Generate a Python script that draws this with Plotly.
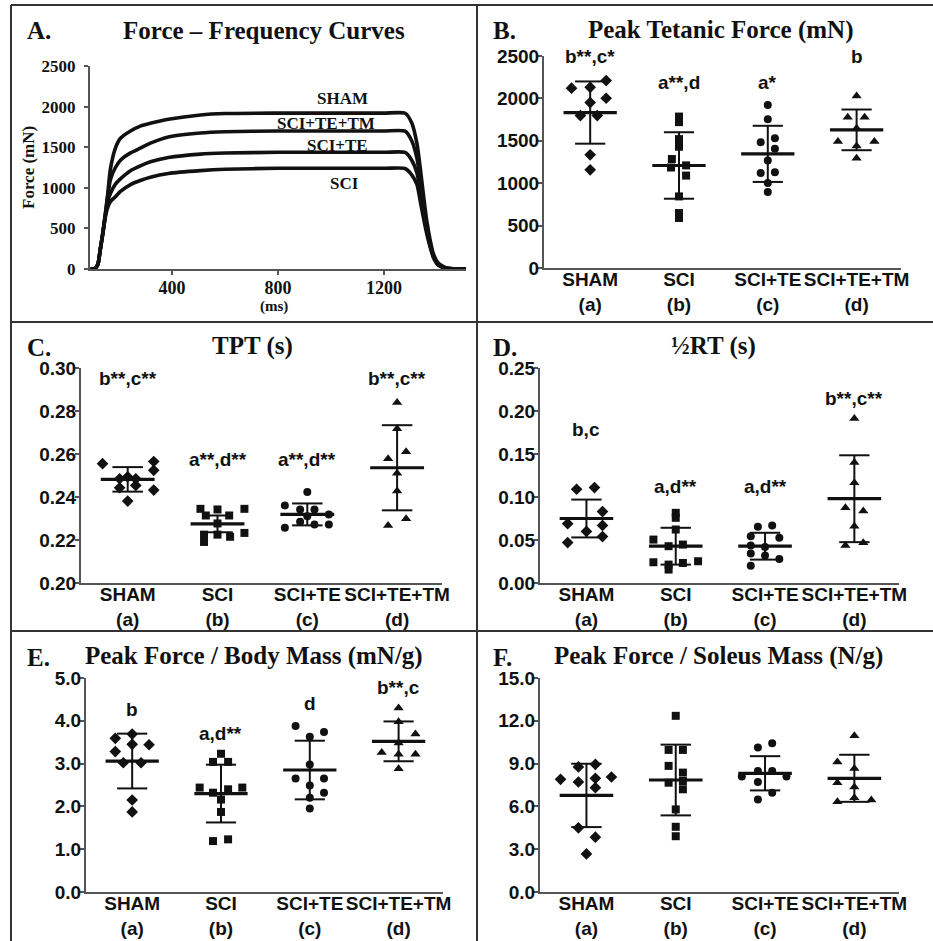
import plotly.graph_objects as go

W, H = 933, 941

# ---------------- Panel A: force-frequency curves ----------------
time_ms = [92, 100, 110, 120, 129, 138, 148, 157, 167, 186, 205, 243, 280, 318, 386, 507,
           600, 800, 1000, 1200, 1280, 1305, 1325, 1337, 1349, 1362, 1375, 1387, 1406, 1438, 1475, 1510]
force_sham = [0, 0, 10, 60, 245, 430, 676, 922, 1230, 1490, 1610, 1700, 1760, 1795, 1844, 1897,
              1915, 1920, 1920, 1920, 1918, 1800, 1540, 1250, 920, 590, 350, 185, 70, 12, 0, 0]
force_tm = [0, 0, 10, 60, 245, 430, 676, 900, 1100, 1250, 1340, 1430, 1488, 1550, 1627, 1675,
            1690, 1700, 1700, 1700, 1698, 1580, 1360, 1090, 800, 510, 305, 165, 55, 8, 0, 0]
force_te = [0, 0, 10, 60, 245, 430, 660, 830, 930, 1045, 1110, 1210, 1270, 1320, 1373, 1415,
            1428, 1437, 1437, 1437, 1435, 1340, 1180, 960, 715, 470, 285, 155, 50, 8, 0, 0]
force_sci = [0, 0, 10, 60, 245, 430, 640, 760, 830, 890, 955, 1040, 1090, 1130, 1176, 1211,
             1228, 1240, 1240, 1240, 1238, 1160, 1040, 840, 635, 430, 266, 140, 45, 8, 0, 0]
curve_names = ["SHAM", "SCI+TE+TM", "SCI+TE", "SCI"]
curve_label_x = [1043, 983, 1024, 1050]
curve_label_y = [2094, 1786, 1527, 1059]
a_yticks = [0, 500, 1000, 1500, 2000, 2500]
a_xticks = [400, 800, 1200]

# ---------------- scatter panels ----------------
groups = ["SHAM", "SCI", "SCI+TE", "SCI+TE+TM"]
group_ids = ["(a)", "(b)", "(c)", "(d)"]

# B. Peak tetanic force (mN)
ptf_sham = [2120, 2131, 2210, 2002, 1951, 1798, 1798, 1335, 1158]
ptf_sham_dx = [-0.21, 0, 0.18, 0.18, 0, -0.11, 0.08, 0, 0]
ptf_sci = [1786, 1720, 1520, 1430, 1285, 1185, 1210, 1090, 844, 648, 590]
ptf_sci_dx = [0, 0, 0, 0, -0.08, -0.09, 0.08, 0.08, 0, 0, 0]
ptf_te = [1923, 1755, 1484, 1531, 1405, 1268, 1119, 1130, 1001, 895]
ptf_te_dx = [0, 0, -0.08, 0.08, 0.08, 0, -0.08, 0.08, 0, 0]
ptf_tm = [2029, 1778, 1778, 1491, 1491, 1648, 1440, 1295]
ptf_tm_dx = [0, -0.1, 0.09, -0.21, 0.2, 0, 0, 0]
ptf_mean = [1833, 1209, 1346, 1629]
ptf_sd = [367, 392, 331, 240]
ptf_sig = ["b**,c*", "a**,d", "a*", "b"]
ptf_sig_y = [2492, 2186, 2186, 2492]

# C. TPT (s)
tpt_sham = [0.2555, 0.2565, 0.2524, 0.2432, 0.2485, 0.2485, 0.2494, 0.2443, 0.2454, 0.2381]
tpt_sham_dx = [-0.28, 0.29, 0.29, 0.29, -0.09, 0.09, 0, -0.09, 0.09, 0]
tpt_sci = [0.2345, 0.2345, 0.2314, 0.2342, 0.2314, 0.2277, 0.2225, 0.2225, 0.2215, 0.2233, 0.2191]
tpt_sci_dx = [-0.19, 0.3, -0.13, 0, 0.13, 0, -0.15, 0, 0.14, 0.3, -0.15]
tpt_te = [0.2423, 0.2361, 0.2342, 0.2342, 0.2319, 0.2257, 0.2285, 0.2272, 0.2272, 0.2310]
tpt_te_dx = [0, -0.25, -0.08, 0.08, 0.24, -0.25, -0.08, 0.08, 0.24, 0]
tpt_tm = [0.2840, 0.2718, 0.2578, 0.2610, 0.2510, 0.2428, 0.2267, 0.2299]
tpt_tm_dx = [0, 0, -0.1, 0.1, 0, 0, -0.1, 0.1]
tpt_mean = [0.2482, 0.2275, 0.2319, 0.2536]
tpt_sd = [0.0057, 0.0039, 0.0051, 0.0198]
tpt_sig = ["b**,c**", "a**,d**", "a**,d**", "b**,c**"]
tpt_sig_y = [0.2952, 0.2575, 0.2575, 0.2952]

# D. 1/2 RT (s)
hrt_sham = [0.109, 0.111, 0.083, 0.069, 0.067, 0.060, 0.054, 0.047]
hrt_sham_dx = [-0.11, 0.09, 0.18, -0.21, 0.18, 0, 0.18, -0.21]
hrt_sci = [0.0816, 0.0758, 0.0622, 0.0505, 0.0428, 0.0447, 0.0241, 0.0214, 0.0233, 0.0253, 0.0156]
hrt_sci_dx = [0, 0, 0, -0.25, -0.08, 0.08, -0.25, -0.08, 0.08, 0.25, -0.08]
hrt_te = [0.0653, 0.0669, 0.0544, 0.0525, 0.0435, 0.0420, 0.0342, 0.0319, 0.0280, 0.0202]
hrt_te_dx = [-0.08, 0.08, -0.16, 0.16, -0.16, 0, -0.16, 0, 0.16, -0.16]
hrt_tm = [0.1913, 0.140, 0.1166, 0.0875, 0.0836, 0.0661, 0.0435, 0.0467]
hrt_tm_dx = [0, 0, 0, -0.1, 0.1, 0, -0.1, 0.1]
hrt_mean = [0.075, 0.0428, 0.0428, 0.098]
hrt_sd = [0.022, 0.0214, 0.0156, 0.0505]
hrt_sig = ["b,c", "a,d**", "a,d**", "b**,c**"]
hrt_sig_y = [0.179, 0.112, 0.112, 0.214]

# E. Peak force / body mass (mN/g)
pfb_sham = [3.59, 3.69, 3.45, 3.44, 3.28, 3.02, 3.02, 2.15, 1.87]
pfb_sham_dx = [-0.19, 0, 0, 0.19, -0.19, -0.1, 0.1, 0, 0]
pfb_sci = [3.23, 3.04, 3.04, 2.44, 2.44, 2.32, 2.40, 2.16, 1.87, 1.19, 1.23]
pfb_sci_dx = [0, -0.09, 0.08, -0.24, 0.24, -0.09, 0.08, 0, 0, -0.09, 0.08]
pfb_te = [3.88, 3.74, 3.63, 2.98, 2.65, 2.65, 2.49, 2.32, 2.20, 1.95]
pfb_te_dx = [-0.16, 0.16, 0, 0, -0.16, 0.16, 0, 0.16, 0, 0]
pfb_tm = [4.30, 3.98, 3.69, 3.48, 3.26, 3.22, 3.22, 2.88]
pfb_tm_dx = [0, 0, 0.19, 0, -0.19, 0, 0.19, 0]
pfb_mean = [3.06, 2.30, 2.85, 3.52]
pfb_sd = [0.64, 0.675, 0.685, 0.465]
pfb_sig = ["b", "a,d**", "d", "b**,c"]
pfb_sig_y = [4.27, 3.71, 4.41, 4.78]

# F. Peak force / soleus mass (N/g)
pfs_sham = [7.90, 8.77, 8.95, 7.71, 7.97, 8.06, 7.31, 4.50, 3.84, 2.67]
pfs_sham_dx = [-0.29, -0.09, 0.1, -0.09, 0.1, 0.28, 0.1, -0.09, 0.1, 0]
pfs_sci = [12.35, 9.96, 9.96, 8.84, 8.37, 7.66, 7.78, 7.20, 5.79, 4.57, 3.91]
pfs_sci_dx = [0, -0.08, 0.08, -0.08, 0.08, -0.08, 0.08, 0.08, 0, 0, 0]
pfs_te = [10.13, 10.43, 8.09, 8.48, 8.48, 8.09, 7.71, 6.96, 6.49]
pfs_te_dx = [-0.08, 0.08, -0.26, -0.08, 0.08, 0.24, -0.08, 0.08, -0.08]
pfs_tm = [10.95, 9.12, 8.65, 7.66, 7.36, 6.33, 6.45, 6.61]
pfs_tm_dx = [0, -0.19, 0, -0.19, 0, -0.19, 0.19, 0]
pfs_mean = [6.77, 7.85, 8.32, 7.97]
pfs_sd = [2.22, 2.48, 1.20, 1.65]

# ---------------- figure ----------------
INK = "#111111"
AXC = "#555555"
SANS = "Liberation Sans"
SERIF = "Liberation Serif"

fig = go.Figure()


def xdom(a, b):
    return [a / W, b / W]


def ydom(top, bottom):
    return [1 - bottom / H, 1 - top / H]


# Panel A
for name, f in zip(curve_names, [force_sham, force_tm, force_te, force_sci]):
    fig.add_trace(go.Scatter(x=time_ms, y=f, mode="lines", name=name,
                             line=dict(color=INK, width=3.6, shape="spline", smoothing=0.6),
                             xaxis="x", yaxis="y", hoverinfo="skip"))
for name, lx, ly in zip(curve_names, curve_label_x, curve_label_y):
    fig.add_annotation(x=lx, y=ly, xref="x", yref="y", text="<b>%s</b>" % name, showarrow=False,
                       font=dict(family=SERIF, size=17, color=INK))

axis_common = dict(showgrid=False, zeroline=False, showline=True, linecolor=AXC, linewidth=2,
                   fixedrange=True, automargin=False, tickangle=0)

layout = dict(
    width=W, height=H, margin=dict(l=0, r=0, t=0, b=0, autoexpand=False),
    paper_bgcolor="white", plot_bgcolor="white", showlegend=False,
    xaxis=dict(domain=xdom(90, 466), range=[90, 1510], tickvals=a_xticks, ticks="outside",
               ticklen=4, tickwidth=1.5, tickcolor=AXC, ticklabelstandoff=-3,
               tickfont=dict(family=SERIF, size=18, color=INK, weight="bold"),
               anchor="y", **axis_common),
    yaxis=dict(domain=ydom(66, 269), range=[0, 2500], tickvals=a_yticks, ticks="outside",
               ticklen=4, tickwidth=1.5, tickcolor=AXC, ticklabelstandoff=5,
               tickfont=dict(family=SERIF, size=17, color=INK, weight="bold"),
               anchor="x", **axis_common),
)

panels = [
    ("2", (544, 901), (56, 268), [0, 2500], [0, 500, 1000, 1500, 2000, 2500], "d",
     [(ptf_sham, ptf_sham_dx), (ptf_sci, ptf_sci_dx), (ptf_te, ptf_te_dx), (ptf_tm, ptf_tm_dx)],
     ptf_mean, ptf_sd, ptf_sig, ptf_sig_y),
    ("3", (81, 442), (368, 583), [0.20, 0.30], [0.20, 0.22, 0.24, 0.26, 0.28, 0.30], ".2f",
     [(tpt_sham, tpt_sham_dx), (tpt_sci, tpt_sci_dx), (tpt_te, tpt_te_dx), (tpt_tm, tpt_tm_dx)],
     tpt_mean, tpt_sd, tpt_sig, tpt_sig_y),
    ("4", (540, 899), (368, 583), [0, 0.25], [0, 0.05, 0.10, 0.15, 0.20, 0.25], ".2f",
     [(hrt_sham, hrt_sham_dx), (hrt_sci, hrt_sci_dx), (hrt_te, hrt_te_dx), (hrt_tm, hrt_tm_dx)],
     hrt_mean, hrt_sd, hrt_sig, hrt_sig_y),
    ("5", (86, 443), (678, 892), [0, 5], [0, 1, 2, 3, 4, 5], ".1f",
     [(pfb_sham, pfb_sham_dx), (pfb_sci, pfb_sci_dx), (pfb_te, pfb_te_dx), (pfb_tm, pfb_tm_dx)],
     pfb_mean, pfb_sd, pfb_sig, pfb_sig_y),
    ("6", (540, 899), (678, 892), [0, 15], [0, 3, 6, 9, 12, 15], ".1f",
     [(pfs_sham, pfs_sham_dx), (pfs_sci, pfs_sci_dx), (pfs_te, pfs_te_dx), (pfs_tm, pfs_tm_dx)],
     pfs_mean, pfs_sd, None, None),
]

symbols = ["diamond", "square", "circle", "triangle-up"]
sizes = [9, 8, 8, 9]
MEAN_HW = 0.30
CAP_HW = 0.17

for key, xd, yd, yr, ytv, yfmt, data, means, sds, sig, sig_y in panels:
    xa, ya = "x" + key, "y" + key
    layout["xaxis" + key] = dict(domain=xdom(*xd), range=[-0.52, 3.5], tickvals=[0, 1, 2, 3],
                                 ticktext=["%s<br>%s" % (g, i) for g, i in zip(groups, group_ids)],
                                 ticks="", ticklabelstandoff=-7,
                                 tickfont=dict(family=SANS, size=19, color=INK, weight="bold"),
                                 anchor=ya, **axis_common)
    layout["yaxis" + key] = dict(domain=ydom(*yd), range=yr, tickvals=ytv, tickformat=yfmt,
                                 ticks="outside", ticklen=4, tickwidth=1.5, tickcolor=AXC,
                                 ticklabelstandoff=-5,
                                 tickfont=dict(family=SANS, size=19, color=INK, weight="bold"),
                                 anchor=xa, **axis_common)
    mx, my, sx, sy = [], [], [], []
    for gi, (m, s) in enumerate(zip(means, sds)):
        mx += [gi - MEAN_HW, gi + MEAN_HW, None]
        my += [m, m, None]
        sx += [gi, gi, None, gi - CAP_HW, gi + CAP_HW, None, gi - CAP_HW, gi + CAP_HW, None]
        sy += [m - s, m + s, None, m + s, m + s, None, m - s, m - s, None]
    fig.add_trace(go.Scatter(x=sx, y=sy, mode="lines", line=dict(color=INK, width=2),
                             xaxis=xa, yaxis=ya, hoverinfo="skip"))
    fig.add_trace(go.Scatter(x=mx, y=my, mode="lines", line=dict(color=INK, width=3.2),
                             xaxis=xa, yaxis=ya, hoverinfo="skip"))
    for gi, (vals, dxs) in enumerate(data):
        fig.add_trace(go.Scatter(x=[gi + d for d in dxs], y=vals, mode="markers",
                                 name=groups[gi],
                                 marker=dict(symbol=symbols[gi], size=sizes[gi], color=INK,
                                             line=dict(width=0)),
                                 xaxis=xa, yaxis=ya))
    if sig:
        for gi, (t, yv) in enumerate(zip(sig, sig_y)):
            fig.add_annotation(x=gi, y=yv, xref=xa, yref=ya, text="<b>%s</b>" % t, showarrow=False,
                               font=dict(family=SANS, size=19, color=INK))

fig.update_layout(**layout)

titles = [
    ("A.", 25, 31, "Force – Frequency Curves", 264, 30),
    ("B.", 491, 31, "Peak Tetanic Force (mN)", 720, 30),
    ("C.", 25, 347, "TPT (s)", 252, 346),
    ("D.", 491, 347, "½RT (s)", 713, 346),
    ("E.", 25, 657, "Peak Force / Body Mass (mN/g)", 254, 656),
    ("F.", 491, 657, "Peak Force / Soleus Mass (N/g)", 718, 656),
]
for letter, lx, ly, title, tx, ty in titles:
    fig.add_annotation(x=lx / W, y=1 - ly / H, xref="paper", yref="paper", xanchor="left",
                       yanchor="middle", text="<b>%s</b>" % letter, showarrow=False,
                       font=dict(family=SERIF, size=25, color=INK))
    fig.add_annotation(x=tx / W, y=1 - ty / H, xref="paper", yref="paper", xanchor="center",
                       yanchor="middle", text="<b>%s</b>" % title, showarrow=False,
                       font=dict(family=SERIF, size=25, color=INK))

fig.add_annotation(x=28 / W, y=1 - 168 / H, xref="paper", yref="paper", text="<b>Force (mN)</b>",
                   textangle=-90, xanchor="center", yanchor="middle", showarrow=False,
                   font=dict(family=SERIF, size=17, color=INK))
fig.add_annotation(x=274 / W, y=1 - 306 / H, xref="paper", yref="paper", text="<b>(ms)</b>",
                   xanchor="center", yanchor="middle", showarrow=False,
                   font=dict(family=SERIF, size=15, color=INK))

FR = "#333333"
frame = [
    (11, 5, W, 5), (11, 5, 11, H), (477, 5, 477, H), (11, 322, W, 322), (11, 631, W, 631),
]
for x0, y0, x1, y1 in frame:
    fig.add_shape(type="line", xref="paper", yref="paper", x0=x0 / W, y0=1 - y0 / H,
                  x1=x1 / W, y1=1 - y1 / H, line=dict(color=FR, width=2))

fig.write_html("out.html", config={"displayModeBar": False},
               post_script="document.body.style.margin='0px';document.body.style.overflow='hidden';")
